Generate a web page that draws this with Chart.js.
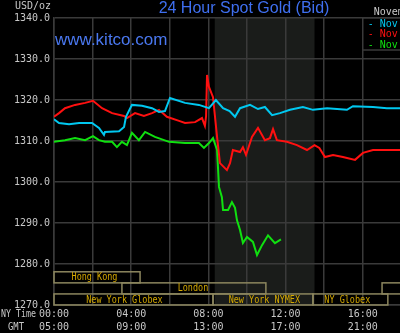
<!DOCTYPE html>
<html>
<head>
<meta charset="utf-8">
<script src="https://cdn.jsdelivr.net/npm/chart.js@4.4.0/dist/chart.umd.min.js"></script>
<style>
  html, body { margin: 0; padding: 0; background: #000; overflow: hidden; }
  canvas { display: block; }
</style>
</head>
<body>
<canvas id="goldChart" width="400" height="333"></canvas>
<script>
// NY time in hours, spot price in USD/oz
const nov06Hours = [0, 0.26, 0.78, 1.3, 1.97, 2.33, 2.59, 2.64, 3.37, 3.63, 3.73, 4.04, 4.56, 5.08, 5.44, 5.75, 6.01, 6.79, 7.51, 8.03, 8.39, 8.76, 9.1, 9.38, 9.64, 10.16, 10.57, 10.93, 11.3, 11.71, 12.23, 12.9, 13.42, 14.15, 15.18, 15.49, 16.53, 17.25, 17.93];
const nov06Prices = [1315.3, 1314.4, 1314.1, 1314.4, 1314.4, 1313.2, 1311.5, 1312.2, 1312.4, 1313.4, 1315.9, 1318.8, 1318.6, 1318.0, 1317.1, 1317.3, 1320.5, 1319.3, 1318.8, 1318.0, 1320.0, 1318.0, 1317.3, 1315.9, 1318.0, 1318.8, 1317.8, 1318.3, 1316.3, 1316.8, 1317.6, 1318.3, 1317.6, 1318.0, 1317.6, 1318.5, 1318.3, 1318.0, 1318.0];

const nov07Hours = [0, 0.26, 0.57, 1.09, 1.61, 2.02, 2.49, 3.01, 3.63, 3.78, 4.2, 4.66, 5.08, 5.44, 5.85, 6.48, 6.79, 7.31, 7.67, 7.82, 7.88, 7.93, 8.03, 8.24, 8.45, 8.6, 8.96, 9.12, 9.27, 9.64, 9.79, 9.95, 10.26, 10.57, 10.93, 11.19, 11.35, 11.55, 12.07, 12.59, 13.11, 13.5, 13.75, 14.04, 14.46, 14.97, 15.6, 16.01, 16.53, 17.25, 17.93];
const nov07Prices = [1315.9, 1316.8, 1318.0, 1318.8, 1319.3, 1319.8, 1318.0, 1316.8, 1316.1, 1315.6, 1316.8, 1316.1, 1316.8, 1317.6, 1315.9, 1314.9, 1314.4, 1314.6, 1315.6, 1313.7, 1316.0, 1326.1, 1323.2, 1320.7, 1311.0, 1304.6, 1302.9, 1304.6, 1307.8, 1307.3, 1308.5, 1306.6, 1311.0, 1313.2, 1310.2, 1310.7, 1312.9, 1310.2, 1309.8, 1309.0, 1307.8, 1309.0, 1308.3, 1306.1, 1306.6, 1306.1, 1305.4, 1307.1, 1307.8, 1307.8, 1307.8];

const nov08Hours = [0, 0.57, 1.09, 1.61, 2.02, 2.33, 2.64, 3.01, 3.26, 3.52, 3.78, 4.04, 4.4, 4.72, 5.23, 5.96, 6.79, 7.51, 7.77, 8.03, 8.24, 8.45, 8.55, 8.7, 8.76, 9.02, 9.22, 9.38, 9.48, 9.64, 9.79, 10.0, 10.31, 10.52, 10.78, 11.09, 11.45, 11.76];
const nov08Prices = [1309.8, 1310.2, 1310.7, 1310.2, 1311.2, 1310.2, 1309.8, 1309.8, 1308.5, 1309.8, 1309.0, 1312.0, 1310.2, 1312.2, 1311.0, 1309.8, 1309.5, 1309.5, 1308.3, 1309.5, 1310.7, 1307.8, 1298.8, 1296.3, 1293.2, 1293.2, 1295.1, 1293.7, 1290.7, 1288.3, 1285.1, 1286.6, 1285.4, 1282.2, 1284.6, 1287.0, 1285.1, 1286.0];

const tickHours = [0, 2, 4, 6, 8, 10, 12, 14, 16];
const nyTimeLabels = ['00:00', '', '04:00', '', '08:00', '', '12:00', '', '16:00'];
const gmtLabels = ['05:00', '', '09:00', '', '13:00', '', '17:00', '', '21:00'];
const priceTicks = [1270, 1280, 1290, 1300, 1310, 1320, 1330, 1340];

// trading sessions (NY hours), row 0 = top
const sessionNames = ['Hong Kong', 'London', '', 'New York Globex', 'New York NYMEX', 'NY Globex'];
const sessionStart = [0, 3.52, 17.0, 0, 8.24, 13.42];
const sessionEnd = [4.46, 10.98, 20, 8.24, 13.42, 17.3];
const sessionRow = [0, 1, 1, 2, 2, 2];
const sessionLabelAt = [2.1, 7.2, 0, 3.65, 10.9, 15.2];

const nymexShade = [8.33, 13.5];

const legendLabels = ['Nov 06', 'Nov 07', 'Nov 08'];
const seriesColors = ['#00c8f0', '#ff1010', '#10e010'];

function toPoints(hours, prices) {
    return hours.map((h, i) => ({ x: h, y: prices[i] }));
}

const mono = '"DejaVu Sans Mono", "Liberation Mono", monospace';
const gridColor = '#3a3a3a';

const kitcoDecor = {
    id: 'kitcoDecor',
    beforeDraw(chart) {
        const { ctx, chartArea, scales } = chart;
        ctx.save();
        ctx.fillStyle = '#000';
        ctx.fillRect(0, 0, chart.width, chart.height);
        // NYMEX hours shading
        const x0 = scales.x.getPixelForValue(nymexShade[0]);
        const x1 = scales.x.getPixelForValue(nymexShade[1]);
        ctx.fillStyle = '#1a1c1a';
        ctx.fillRect(x0, chartArea.top, x1 - x0, chartArea.bottom - chartArea.top);
        ctx.restore();
    },
    afterDraw(chart) {
        const { ctx, chartArea, scales } = chart;
        ctx.save();

        // session boxes along the bottom
        const rowH = (chartArea.bottom - scales.y.getPixelForValue(1278.1)) / 3;
        const rowTop = chartArea.bottom - rowH * 3;
        ctx.lineWidth = 1.5;
        ctx.strokeStyle = '#8c865e';
        ctx.font = '10px ' + mono;
        ctx.textAlign = 'center';
        ctx.textBaseline = 'middle';
        sessionNames.forEach((name, i) => {
            const xa = scales.x.getPixelForValue(sessionStart[i]);
            const xb = Math.min(scales.x.getPixelForValue(sessionEnd[i]), chart.width + 5);
            const ya = rowTop + sessionRow[i] * rowH;
            ctx.strokeRect(xa, ya, xb - xa, rowH);
            if (name) {
                ctx.fillStyle = '#d4a800';
                ctx.fillText(name, scales.x.getPixelForValue(sessionLabelAt[i]), ya + rowH / 2 + 0.5, name.length * 5.1);
            }
        });

        // legend box, top right
        const lx = scales.x.getPixelForValue(16);
        ctx.fillStyle = '#000';
        ctx.fillRect(lx, chartArea.top, chart.width - lx, 32);
        ctx.strokeStyle = gridColor;
        ctx.lineWidth = 1.5;
        ctx.strokeRect(lx, chartArea.top, chart.width - lx + 5, 32);
        ctx.font = '10px ' + mono;
        ctx.textAlign = 'left';
        legendLabels.forEach((lab, i) => {
            ctx.fillStyle = seriesColors[i];
            ctx.fillText('- ' + lab, lx + 5, chartArea.top + 6 + i * 10.5);
        });
        ctx.fillStyle = '#c8c8c8';
        ctx.fillText('November 2013', lx + 11, 12);

        // title and watermark
        ctx.fillStyle = '#3f6ff0';
        ctx.font = '16px "Liberation Sans", Arial, sans-serif';
        ctx.textAlign = 'center';
        ctx.fillText('24 Hour Spot Gold (Bid)', 244, 9);
        ctx.fillStyle = '#4a78f0';
        ctx.font = '17px "Liberation Sans", Arial, sans-serif';
        ctx.textAlign = 'left';
        ctx.fillText('www.kitco.com', 55, 40);

        // axis captions
        ctx.fillStyle = '#c8c8c8';
        ctx.font = '10px ' + mono;
        ctx.fillText('USD/oz', 15, 6);
        ctx.fillText('NY Time', 1, 314, 35);
        ctx.fillText('GMT', 8, 327, 16);
        ctx.restore();
    }
};

const chart = new Chart(document.getElementById('goldChart'), {
    type: 'line',
    data: {
        datasets: [
            { label: legendLabels[0], data: toPoints(nov06Hours, nov06Prices), borderColor: seriesColors[0] },
            { label: legendLabels[1], data: toPoints(nov07Hours, nov07Prices), borderColor: seriesColors[1] },
            { label: legendLabels[2], data: toPoints(nov08Hours, nov08Prices), borderColor: seriesColors[2] }
        ]
    },
    options: {
        responsive: false,
        animation: false,
        devicePixelRatio: 1,
        layout: { padding: { top: 18, right: 0, left: 0, bottom: 0 } },
        elements: {
            point: { radius: 0 },
            line: { borderWidth: 2, tension: 0 }
        },
        plugins: {
            legend: { display: false },
            tooltip: { enabled: false }
        },
        scales: {
            x: {
                type: 'linear',
                min: 0,
                max: 17.93,
                afterBuildTicks: (scale) => { scale.ticks = tickHours.map(v => ({ value: v })); },
                afterFit: (scale) => { scale.height = 28; },
                grid: { color: gridColor, lineWidth: 1.5, drawTicks: false },
                border: { color: gridColor, width: 1.5 },
                ticks: {
                    color: '#c8c8c8',
                    font: { family: mono, size: 10, lineHeight: 1.3 },
                    padding: 3,
                    maxRotation: 0,
                    autoSkip: false,
                    callback: (v) => {
                        const i = tickHours.indexOf(v);
                        return nyTimeLabels[i] ? [nyTimeLabels[i], gmtLabels[i]] : '';
                    }
                }
            },
            y: {
                min: 1270,
                max: 1340,
                afterBuildTicks: (scale) => { scale.ticks = priceTicks.map(v => ({ value: v })); },
                afterFit: (scale) => { scale.width = 54; },
                grid: { color: gridColor, lineWidth: 1.5, drawTicks: false },
                border: { color: gridColor, width: 1.5 },
                ticks: {
                    color: '#c8c8c8',
                    font: { family: mono, size: 10 },
                    padding: 4,
                    callback: (v) => v.toFixed(1)
                }
            }
        }
    },
    plugins: [kitcoDecor]
});
</script>
</body>
</html>
